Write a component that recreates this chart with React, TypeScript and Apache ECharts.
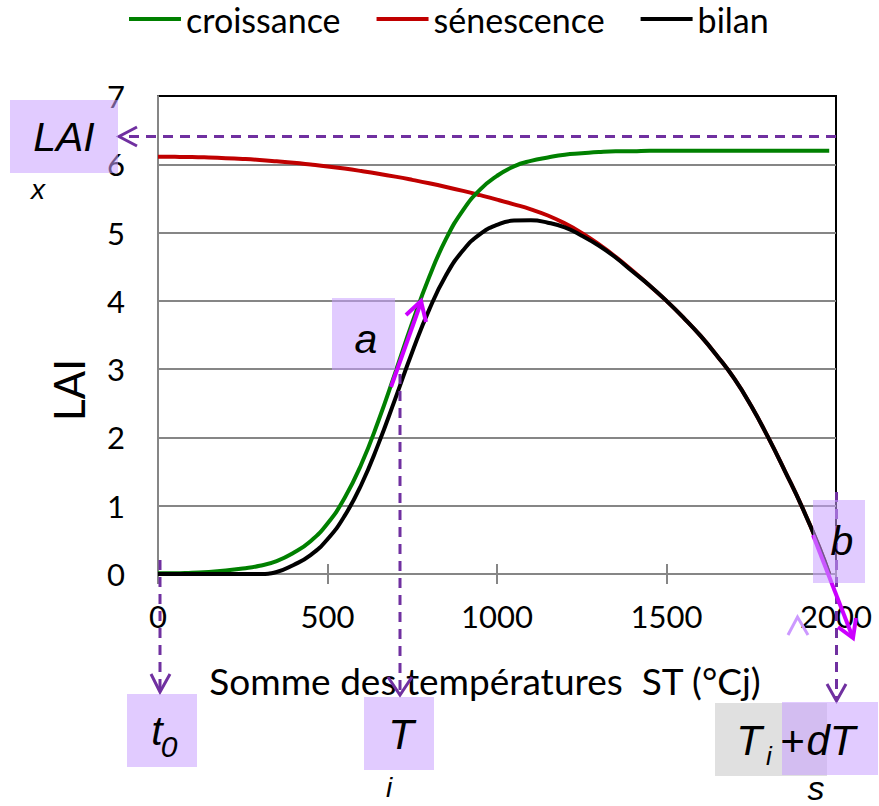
import React, { useEffect, useRef } from "react";
import * as echarts from "echarts";

// Somme des températures (°Cj)
const ST = [0, 50, 100, 150, 200, 250, 300, 350, 400, 450, 500, 550, 600, 650, 700, 750, 800, 850, 900, 950, 1000, 1050, 1100, 1150, 1200, 1250, 1300, 1350, 1400, 1450, 1500, 1550, 1600, 1650, 1700, 1750, 1800, 1850, 1900, 1950, 1980];
const croissance = [0.01, 0.01, 0.02, 0.03, 0.05, 0.08, 0.12, 0.19, 0.31, 0.48, 0.74, 1.11, 1.61, 2.24, 2.95, 3.68, 4.35, 4.91, 5.33, 5.63, 5.83, 5.97, 6.05, 6.1, 6.14, 6.16, 6.18, 6.19, 6.19, 6.2, 6.2, 6.2, 6.2, 6.2, 6.2, 6.2, 6.2, 6.2, 6.2, 6.2, 6.2];
const senescence = [6.11, 6.109, 6.106, 6.099, 6.09, 6.078, 6.063, 6.044, 6.023, 5.997, 5.969, 5.937, 5.901, 5.862, 5.819, 5.772, 5.722, 5.668, 5.61, 5.548, 5.483, 5.414, 5.34, 5.25, 5.135, 4.995, 4.83, 4.645, 4.44, 4.225, 4.0, 3.755, 3.49, 3.19, 2.86, 2.46, 2.0, 1.5, 0.98, 0.4, 0];
const bilan = [0, 0, 0, 0, 0, 0, 0, 0.03, 0.133, 0.277, 0.509, 0.847, 1.311, 1.902, 2.569, 3.252, 3.872, 4.378, 4.74, 4.978, 5.113, 5.175, 5.18, 5.145, 5.075, 4.955, 4.81, 4.635, 4.43, 4.225, 4.0, 3.755, 3.49, 3.19, 2.86, 2.46, 2.0, 1.5, 0.98, 0.4, 0];
const seriesNames = ["croissance", "sénescence", "bilan"];

const pairs = (ys: number[]) => ST.map((x, i) => [x, ys[i]]);

const PURPLE = "#7030a0";
const MAGENTA = "#cc00ff";
const BOX = "rgba(200,160,255,0.55)";
const ITAL = '"Liberation Sans", Arial, sans-serif';

const txt = (text: string, x: number, y: number, size: number, fill = "#000") => ({
  type: "text",
  z: 110,
  style: { text, x, y, font: `italic ${size}px ${ITAL}`, fill, textAlign: "center", textVerticalAlign: "middle" },
});
const box = (x: number, y: number, w: number, h: number, fill = BOX) => ({
  type: "rect",
  z: 105,
  shape: { x, y, width: w, height: h },
  style: { fill },
});
const dash = (x1: number, y1: number, x2: number, y2: number) => ({
  type: "line",
  z: 104,
  shape: { x1, y1, x2, y2 },
  style: { stroke: PURPLE, lineWidth: 3, lineDash: [10, 7] },
});
const chevron = (pts: number[][], stroke = PURPLE, w = 3) => ({
  type: "polyline",
  z: 104,
  shape: { points: pts },
  style: { stroke, lineWidth: w, fill: null },
});
const seg = (x1: number, y1: number, x2: number, y2: number, stroke = MAGENTA, w = 4) => ({
  type: "line",
  z: 104,
  shape: { x1, y1, x2, y2 },
  style: { stroke, lineWidth: w },
});

export default function App() {
  const ref = useRef<HTMLDivElement>(null);
  useEffect(() => {
    if (!ref.current) return;
    const chart = echarts.init(ref.current, null, { renderer: "svg" });
    const font = "Lato, sans-serif";
    const gridColors = ["#868686", "#868686", "#868686", "#868686", "#868686", "#868686", "#868686", "#000000"];
    const lineSeries = (name: string, ys: number[], color: string) => ({
      name,
      type: "line",
      data: pairs(ys),
      smooth: 0.5,
      showSymbol: false,
      color,
      lineStyle: { width: 4, color },
    });
    chart.setOption({
      animation: false,
      backgroundColor: "#fff",
      textStyle: { fontFamily: font },
      legend: {
        data: seriesNames,
        top: -3,
        left: 124,
        icon: "rect",
        itemWidth: 52,
        itemHeight: 4,
        itemGap: 36,
        textStyle: { fontSize: 34, color: "#000", fontFamily: font },
      },
      grid: { left: 158, top: 96, width: 678, height: 478, show: true, borderColor: "#000", borderWidth: 2, backgroundColor: "transparent" },
      xAxis: [
        {
          type: "value",
          min: 0,
          max: 2000,
          interval: 500,
          name: "Somme des températures  ST (°Cj)",
          nameLocation: "middle",
          nameGap: 88,
          nameTextStyle: { fontSize: 37, color: "#000", fontFamily: font, padding: [0, 24, 0, 0] },
          axisLine: { show: true, lineStyle: { color: "#868686", width: 2 } },
          axisTick: { show: true, length: 10, lineStyle: { color: "#868686", width: 2 } },
          axisLabel: { fontSize: 31, color: "#000", margin: 26, fontFamily: font, formatter: (v: number) => String(v) },
          splitLine: { show: false },
        },
        {
          type: "value",
          min: 0,
          max: 2000,
          interval: 500,
          position: "bottom",
          axisLine: { show: false },
          axisTick: { show: true, inside: true, length: 10, lineStyle: { color: "#868686", width: 2 } },
          axisLabel: { show: false },
          splitLine: { show: false },
        },
      ],
      yAxis: {
        type: "value",
        min: 0,
        max: 7,
        interval: 1,
        name: "LAI",
        nameLocation: "middle",
        nameGap: 68,
        nameRotate: 90,
        nameTextStyle: { fontSize: 42, color: "#000", fontFamily: font, padding: [0, 110, 0, 0] },
        axisLine: { show: true, lineStyle: { color: "#868686", width: 2 } },
        axisTick: { show: false },
        axisLabel: { fontSize: 31, color: "#000", margin: 33, fontFamily: font, formatter: (v: number) => String(v) },
        splitLine: { show: true, lineStyle: { color: gridColors, width: 2 } },
      },
      series: [
        lineSeries("sénescence", senescence, "#c00000"),
        lineSeries("croissance", croissance, "#008000"),
        lineSeries("bilan", bilan, "#000000"),
      ],
      graphic: [
        // LAImax dashed arrow
        dash(836, 136.5, 122, 136.5),
        chevron([[137, 127], [119, 136.5], [137, 146]]),
        // t0 arrow
        dash(160, 560, 160, 690),
        chevron([[151, 674], [160, 692], [170, 674]]),
        // Ti arrow
        dash(400, 374, 400, 693),
        chevron([[388, 677], [400, 695], [412, 677]]),
        // Ts arrow
        dash(836.5, 492, 836.5, 699),
        chevron([[827, 684], [836.5, 701], [846, 684]]),
        // tangent a
        seg(391, 387, 421.5, 301),
        chevron([[406, 315], [421, 301], [426, 322]], MAGENTA, 4),
        // tangent b
        seg(813, 535, 853, 638),
        chevron([[838, 627], [853, 638], [856, 618]], MAGENTA, 4),
        chevron([[788, 635], [797.5, 617], [808, 635]], "#cc99ff", 3),
        // boxes
        box(10, 100, 108, 73),
        box(332, 298, 63, 72),
        box(127, 694, 70, 73),
        box(364, 697, 70, 73),
        box(813, 500, 52, 83),
        box(715, 703, 112, 73, "#e0e0e0"),
        txt("+", 792, 741, 42),
        box(782, 702, 96, 73),
        // labels
        txt("LAI", 64, 137, 41),
        txt("x", 38, 189, 28),
        txt("a", 366, 339, 41),
        txt("t", 157, 731, 41),
        txt("0", 169, 746, 30),
        txt("T", 401, 734, 42),
        txt("i", 389, 787, 28),
        txt("b", 842, 541, 41),
        txt("T", 749, 740, 42),
        txt("i", 769, 756, 26),
        txt("dT", 831, 740, 42),
        txt("s", 816, 788, 34),
      ],
    });
    return () => chart.dispose();
  }, []);
  return <div ref={ref} style={{ position: "absolute", left: 0, top: 0, width: 879, height: 806 }} />;
}
